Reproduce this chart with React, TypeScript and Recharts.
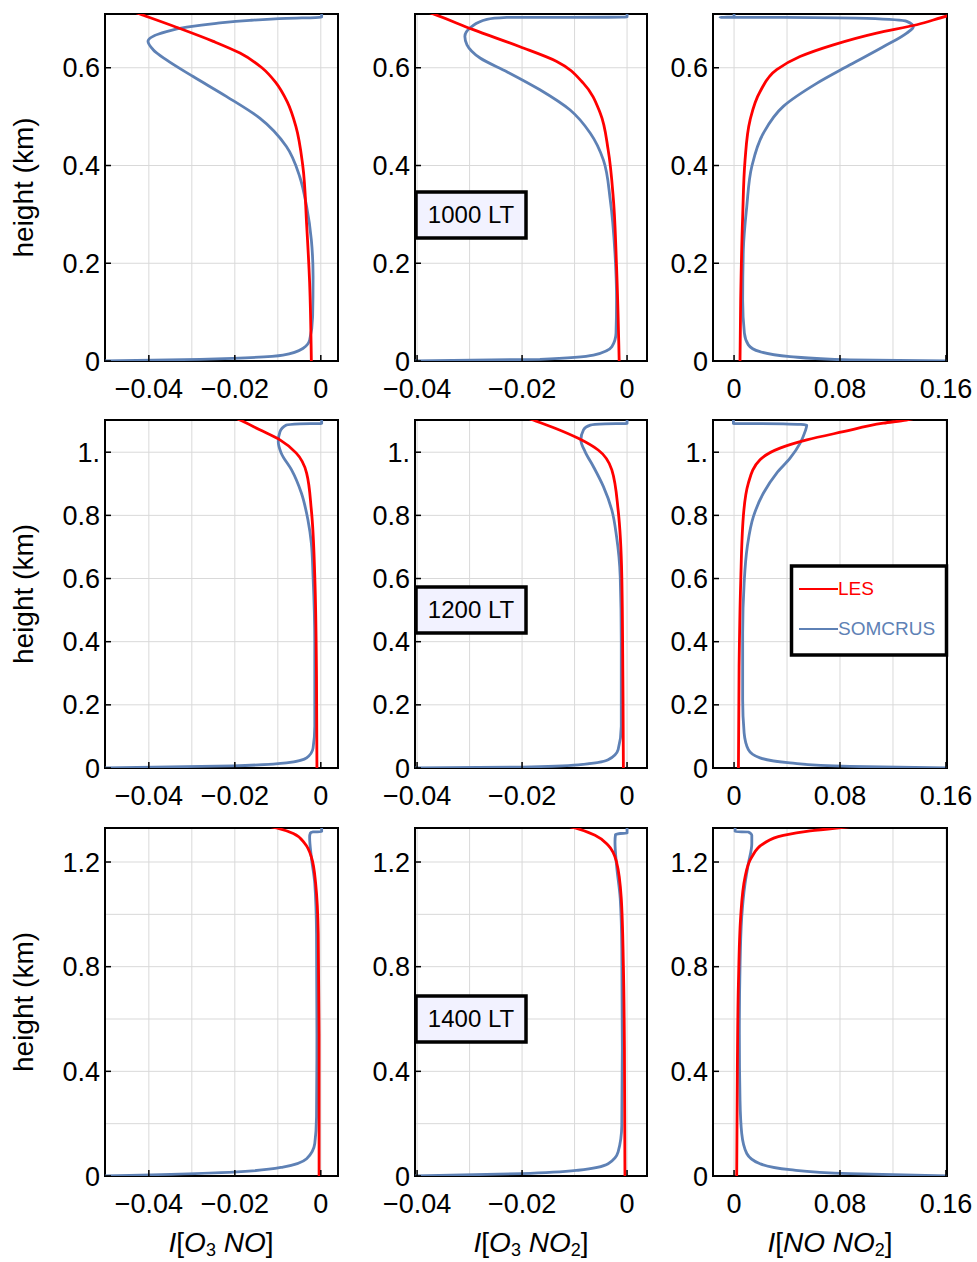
import React from "react";
import { ScatterChart, Scatter, XAxis, YAxis, CartesianGrid, ReferenceArea } from "recharts";

const FONT = "'Liberation Sans', Arial, Helvetica, sans-serif";
const LES_COLOR = "#ff0000";
const SOM_COLOR = "#5e81b5";
const GRID = "#d9d9d9";

type Pt = [number, number]; // [value, height in km]

// ticks / grid lines
const X_GRID_O3 = [-0.04, -0.03, -0.02, -0.01, 0];
const X_LAB_O3 = [-0.04, -0.02, 0];
const X_GRID_NO = [0, 0.04, 0.08, 0.12, 0.16];
const X_LAB_NO = [0, 0.08, 0.16];
const Y_GRID_10 = [0, 0.2, 0.4, 0.6];
const Y_GRID_12 = [0, 0.2, 0.4, 0.6, 0.8, 1.0];
const Y_GRID_14 = [0, 0.2, 0.4, 0.6, 0.8, 1.0, 1.2];
const Y_LAB_14 = [0, 0.4, 0.8, 1.2];

const TIMES = ["1000 LT", "1200 LT", "1400 LT"];
const SERIES = ["LES", "SOMCRUS"];

// 1000 LT
const LES_10_O3NO: Pt[] = [[-0.0022, 0], [-0.0026, 0.16], [-0.0033, 0.28], [-0.0042, 0.4], [-0.0058, 0.48], [-0.0078, 0.53], [-0.0105, 0.57], [-0.0137, 0.6], [-0.0188, 0.63], [-0.025, 0.654], [-0.0336, 0.683], [-0.0421, 0.71], [-0.044, 0.716]];
const SOM_10_O3NO: Pt[] = [[-0.0502, 0], [-0.0281, 0.0035], [-0.0205, 0.0055], [-0.0088, 0.012], [-0.0041, 0.026], [-0.0026, 0.043], [-0.0019, 0.091], [-0.0018, 0.173], [-0.0022, 0.248], [-0.0033, 0.316], [-0.0049, 0.377], [-0.008, 0.439], [-0.0142, 0.497], [-0.0219, 0.541], [-0.0297, 0.582], [-0.0359, 0.616], [-0.039, 0.637], [-0.0402, 0.654], [-0.0359, 0.674], [-0.0312, 0.683], [-0.0243, 0.691], [-0.0165, 0.697], [-0.008, 0.701], [0.0002, 0.7035], [0.0002, 0.76]];
const LES_10_O3NO2: Pt[] = [[-0.0015, 0], [-0.002, 0.193], [-0.0026, 0.33], [-0.0036, 0.432], [-0.0051, 0.507], [-0.0083, 0.568], [-0.0134, 0.613], [-0.0204, 0.643], [-0.0293, 0.678], [-0.0369, 0.71], [-0.039, 0.718]];
const SOM_10_O3NO2: Pt[] = [[-0.0404, 0], [-0.0166, 0.0035], [-0.0064, 0.012], [-0.0029, 0.029], [-0.0021, 0.057], [-0.002, 0.125], [-0.0023, 0.22], [-0.0032, 0.33], [-0.0045, 0.411], [-0.007, 0.466], [-0.0109, 0.514], [-0.0166, 0.555], [-0.0229, 0.592], [-0.028, 0.62], [-0.0305, 0.647], [-0.0309, 0.664], [-0.0296, 0.684], [-0.0267, 0.699], [-0.0229, 0.703], [0, 0.7035], [0, 0.76]];
const LES_10_NONO2: Pt[] = [[0.0045, 0], [0.005, 0.125], [0.0065, 0.295], [0.0083, 0.411], [0.0121, 0.493], [0.0196, 0.551], [0.0322, 0.596], [0.0498, 0.623], [0.075, 0.647], [0.1077, 0.671], [0.138, 0.688], [0.161, 0.706], [0.17, 0.712]];
const SOM_10_NONO2: Pt[] = [[0.161, 0], [0.0876, 0.002], [0.0423, 0.009], [0.0196, 0.019], [0.0108, 0.033], [0.0078, 0.057], [0.0065, 0.125], [0.007, 0.227], [0.0096, 0.316], [0.0134, 0.398], [0.0221, 0.466], [0.0372, 0.521], [0.0624, 0.568], [0.0876, 0.606], [0.1127, 0.643], [0.1304, 0.671], [0.1354, 0.684], [0.1304, 0.695], [0.1002, 0.701], [0.0372, 0.703], [-0.0106, 0.7032], [0, 0.7034], [0, 0.76]];

// 1200 LT
const LES_12_O3NO: Pt[] = [[-0.0009, 0], [-0.001, 0.29], [-0.0014, 0.606], [-0.0022, 0.817], [-0.0033, 0.934], [-0.0057, 0.997], [-0.0095, 1.039], [-0.0142, 1.071], [-0.0188, 1.102], [-0.021, 1.115]];
const SOM_12_O3NO: Pt[] = [[-0.0502, 0], [-0.0204, 0.007], [-0.008, 0.016], [-0.0033, 0.032], [-0.0018, 0.063], [-0.0014, 0.132], [-0.0014, 0.396], [-0.0018, 0.606], [-0.0022, 0.712], [-0.003, 0.786], [-0.0045, 0.87], [-0.0068, 0.944], [-0.0092, 0.997], [-0.0099, 1.034], [-0.0095, 1.065], [-0.008, 1.086], [-0.0049, 1.09], [0.0002, 1.0905], [0.0002, 1.15]];
const LES_12_O3NO2: Pt[] = [[-0.0007, 0], [-0.0008, 0.29], [-0.001, 0.606], [-0.0017, 0.817], [-0.0029, 0.944], [-0.0055, 1.007], [-0.0093, 1.044], [-0.0137, 1.076], [-0.0179, 1.102], [-0.02, 1.115]];
const SOM_12_O3NO2: Pt[] = [[-0.0404, 0], [-0.0201, 0.003], [-0.0093, 0.01], [-0.0036, 0.026], [-0.0017, 0.058], [-0.0011, 0.132], [-0.0011, 0.396], [-0.0013, 0.606], [-0.002, 0.733], [-0.0029, 0.817], [-0.0045, 0.891], [-0.0064, 0.954], [-0.008, 1.002], [-0.0088, 1.039], [-0.0083, 1.071], [-0.007, 1.086], [-0.0042, 1.09], [0, 1.0905], [0, 1.15]];
const LES_12_NONO2: Pt[] = [[0.0033, 0], [0.0038, 0.321], [0.005, 0.585], [0.007, 0.796], [0.0108, 0.902], [0.0196, 0.976], [0.0347, 1.013], [0.0549, 1.039], [0.0825, 1.065], [0.1127, 1.092], [0.13, 1.102], [0.14, 1.111]];
const SOM_12_NONO2: Pt[] = [[0.161, 0], [0.0876, 0.005], [0.0423, 0.016], [0.0196, 0.032], [0.0108, 0.058], [0.0076, 0.111], [0.0065, 0.216], [0.0065, 0.427], [0.0076, 0.585], [0.01, 0.701], [0.0146, 0.796], [0.0221, 0.87], [0.0322, 0.934], [0.0423, 0.981], [0.0498, 1.028], [0.0536, 1.065], [0.0549, 1.086], [0.0372, 1.09], [-0.0005, 1.0905], [-0.0005, 1.15]];

// 1400 LT
const LES_14_O3NO: Pt[] = [[-0.0004, 0], [-0.0004, 0.544], [-0.0006, 0.926], [-0.0012, 1.118], [-0.0022, 1.219], [-0.0037, 1.27], [-0.0064, 1.309], [-0.0103, 1.33], [-0.013, 1.34]];
const SOM_14_O3NO: Pt[] = [[-0.0502, 0], [-0.0204, 0.015], [-0.0088, 0.034], [-0.0033, 0.066], [-0.0014, 0.124], [-0.001, 0.225], [-0.0009, 0.544], [-0.001, 0.926], [-0.0014, 1.118], [-0.0022, 1.219], [-0.0026, 1.296], [-0.0024, 1.312], [-0.0018, 1.315], [0.0002, 1.3155], [0.0002, 1.4]];
const LES_14_O3NO2: Pt[] = [[-0.0004, 0], [-0.0005, 0.487], [-0.0007, 0.805], [-0.0011, 1.06], [-0.002, 1.2], [-0.0036, 1.264], [-0.0061, 1.302], [-0.0099, 1.33], [-0.012, 1.34]];
const SOM_14_O3NO2: Pt[] = [[-0.0404, 0], [-0.0201, 0.009], [-0.0093, 0.022], [-0.0036, 0.047], [-0.0017, 0.092], [-0.001, 0.194], [-0.0009, 0.487], [-0.001, 0.869], [-0.0013, 1.06], [-0.002, 1.187], [-0.0023, 1.277], [-0.0022, 1.305], [-0.0013, 1.309], [0, 1.3095], [0, 1.4]];
const LES_14_NONO2: Pt[] = [[0.002, 0], [0.0025, 0.417], [0.0033, 0.735], [0.005, 0.99], [0.0083, 1.143], [0.0134, 1.219], [0.0221, 1.27], [0.0372, 1.302], [0.0574, 1.319], [0.0775, 1.33], [0.0876, 1.335]];
const SOM_14_NONO2: Pt[] = [[0.161, 0], [0.0876, 0.009], [0.0423, 0.024], [0.0196, 0.047], [0.0096, 0.086], [0.0058, 0.162], [0.0045, 0.289], [0.004, 0.544], [0.0045, 0.799], [0.0058, 0.99], [0.0083, 1.118], [0.0108, 1.194], [0.0134, 1.27], [0.0134, 1.302], [0.0108, 1.315], [0.0008, 1.3155], [0.0008, 1.4]];

const PROFILES: Pt[][][] = [
  [[LES_10_O3NO, SOM_10_O3NO], [LES_10_O3NO2, SOM_10_O3NO2], [LES_10_NONO2, SOM_10_NONO2]],
  [[LES_12_O3NO, SOM_12_O3NO], [LES_12_O3NO2, SOM_12_O3NO2], [LES_12_NONO2, SOM_12_NONO2]],
  [[LES_14_O3NO, SOM_14_O3NO], [LES_14_O3NO2, SOM_14_O3NO2], [LES_14_NONO2, SOM_14_NONO2]],
];

const COLS = [
  { left: 105, width: 233, domain: [-0.0502, 0.004], grid: X_GRID_O3, labels: X_LAB_O3, cx: 221 },
  { left: 415, width: 232, domain: [-0.0404, 0.0038], grid: X_GRID_O3, labels: X_LAB_O3, cx: 531 },
  { left: 713, width: 234, domain: [-0.0159, 0.1608], grid: X_GRID_NO, labels: X_LAB_NO, cx: 830 },
];
const ROWS = [
  { top: 14, height: 347, domain: [0, 0.71], grid: Y_GRID_10, labels: Y_GRID_10, boxTop: 191 },
  { top: 420, height: 348, domain: [0, 1.102], grid: Y_GRID_12, labels: Y_GRID_12, boxTop: 586 },
  { top: 828, height: 348, domain: [0, 1.33], grid: Y_GRID_14, labels: Y_LAB_14, boxTop: 995 },
];

const AX_W = 80;
const AX_H = 50;
const M_TOP = 12;
const M_RIGHT = 30;
const TICK_FONT = 27;

const hasLabel = (labels: number[], v: number) => labels.some((l) => Math.abs(l - v) < 1e-9);

const fmt = (v: number) => {
  if (v === 0) return "0";
  const a = Math.abs(v);
  const s = Number.isInteger(a) ? `${a}.` : String(Number(a.toFixed(4)));
  return v < 0 ? `\u2212${s}` : s;
};

const toRows = (pts: Pt[]) => pts.map(([v, h]) => ({ v, h }));

const NoDot = () => <g />;

function XTick(props: any) {
  const { x, y, payload, labels } = props;
  if (!hasLabel(labels, payload.value)) return <g />;
  return (
    <g>
      <line x1={x} x2={x} y1={y} y2={y - 6} stroke="#000" strokeWidth={1.5} />
      <text x={x} y={y + 37} textAnchor="middle" fontSize={TICK_FONT} fontFamily={FONT} fill="#000">
        {fmt(payload.value)}
      </text>
    </g>
  );
}

function YTick(props: any) {
  const { x, y, payload, labels } = props;
  if (!hasLabel(labels, payload.value)) return <g />;
  return (
    <g>
      <line x1={x} x2={x + 6} y1={y} y2={y} stroke="#000" strokeWidth={1.5} />
      <text x={x - 5} y={y + 9.5} textAnchor="end" fontSize={TICK_FONT} fontFamily={FONT} fill="#000">
        {fmt(payload.value)}
      </text>
    </g>
  );
}

function Panel({ r, c }: { r: number; c: number }) {
  const row = ROWS[r];
  const col = COLS[c];
  const [les, som] = PROFILES[r][c];
  return (
    <div style={{ position: "absolute", left: col.left - AX_W, top: row.top - M_TOP }}>
      <ScatterChart
        width={col.width + AX_W + M_RIGHT}
        height={row.height + M_TOP + AX_H}
        margin={{ top: M_TOP, right: M_RIGHT, bottom: 0, left: 0 }}
      >
        <CartesianGrid stroke={GRID} strokeWidth={1} />
        <XAxis
          type="number"
          dataKey="v"
          domain={col.domain}
          ticks={col.grid}
          interval={0}
          allowDataOverflow
          height={AX_H}
          tickSize={0}
          tickMargin={0}
          axisLine={false}
          tickLine={false}
          tick={(p: any) => <XTick {...p} labels={col.labels} />}
        />
        <YAxis
          type="number"
          dataKey="h"
          domain={row.domain}
          ticks={row.grid}
          interval={0}
          allowDataOverflow
          width={AX_W}
          tickSize={0}
          tickMargin={0}
          axisLine={false}
          tickLine={false}
          tick={(p: any) => <YTick {...p} labels={row.labels} />}
        />
        <Scatter
          name={SERIES[1]}
          data={toRows(som)}
          line={{ stroke: SOM_COLOR, strokeWidth: 2.8 }}
          lineJointType="monotoneY"
          shape={NoDot}
          fill={SOM_COLOR}
          isAnimationActive={false}
        />
        <Scatter
          name={SERIES[0]}
          data={toRows(les)}
          line={{ stroke: LES_COLOR, strokeWidth: 2.8 }}
          lineJointType="monotoneY"
          shape={NoDot}
          fill={LES_COLOR}
          isAnimationActive={false}
        />
        <ReferenceArea
          x1={col.domain[0]}
          x2={col.domain[1]}
          y1={row.domain[0]}
          y2={row.domain[1]}
          fill="none"
          stroke="#000"
          strokeWidth={2}
          ifOverflow="visible"
        />
      </ScatterChart>
    </div>
  );
}

function Sub({ children }: { children: React.ReactNode }) {
  return (
    <tspan fontSize={18} dy={4} fontStyle="normal">
      {children}
    </tspan>
  );
}

export default function App() {
  return (
    <div style={{ position: "absolute", left: 0, top: 0, width: 977, height: 1262, background: "#fff", fontFamily: FONT }}>
      {ROWS.map((_, r) => COLS.map((__, c) => <Panel key={`${r}-${c}`} r={r} c={c} />))}
      <svg width={977} height={1262} style={{ position: "absolute", left: 0, top: 0, pointerEvents: "none" }} fontFamily={FONT}>
        {ROWS.map((row, r) => (
          <text
            key={`hl${r}`}
            transform={`translate(33, ${row.top + row.height / 2}) rotate(-90)`}
            textAnchor="middle"
            fontSize={28}
            fill="#000"
          >
            height (km)
          </text>
        ))}
        {ROWS.map((row, r) => (
          <g key={`box${r}`}>
            <rect x={416} y={row.boxTop + 1} width={110} height={46} fill="#f2f2ff" stroke="#000" strokeWidth={3.5} />
            <text x={471} y={row.boxTop + 32} textAnchor="middle" fontSize={24} fill="#000">
              {TIMES[r]}
            </text>
          </g>
        ))}
        <text x={COLS[0].cx} y={1252} textAnchor="middle" fontSize={28} fill="#000">
          <tspan fontStyle="italic">I</tspan>[<tspan fontStyle="italic">O</tspan>
          <Sub>3</Sub>
          <tspan dy={-4} fontStyle="italic"> NO</tspan>]
        </text>
        <text x={COLS[1].cx} y={1252} textAnchor="middle" fontSize={28} fill="#000">
          <tspan fontStyle="italic">I</tspan>[<tspan fontStyle="italic">O</tspan>
          <Sub>3</Sub>
          <tspan dy={-4} fontStyle="italic"> NO</tspan>
          <Sub>2</Sub>
          <tspan dy={-4}>]</tspan>
        </text>
        <text x={COLS[2].cx} y={1252} textAnchor="middle" fontSize={28} fill="#000">
          <tspan fontStyle="italic">I</tspan>[<tspan fontStyle="italic">NO NO</tspan>
          <Sub>2</Sub>
          <tspan dy={-4}>]</tspan>
        </text>
        <g>
          <rect x={791.5} y={566} width={155} height={89} fill="#fff" stroke="#000" strokeWidth={3.5} />
          {SERIES.map((name, i) => {
            const color = i === 0 ? LES_COLOR : SOM_COLOR;
            const y = 589 + i * 40;
            return (
              <g key={name}>
                <line x1={799} x2={838} y1={y} y2={y} stroke={color} strokeWidth={2} />
                <text x={838} y={y + 6} fontSize={19} fill={color}>
                  {name}
                </text>
              </g>
            );
          })}
        </g>
      </svg>
    </div>
  );
}
